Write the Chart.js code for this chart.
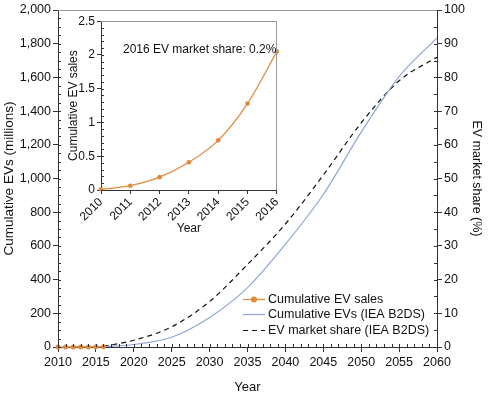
<!DOCTYPE html>
<html><head><meta charset="utf-8">
<script src="https://cdn.jsdelivr.net/npm/chart.js@4/dist/chart.umd.min.js"></script>
<style>
html,body{margin:0;padding:0;background:#fff;}
#wrap{position:relative;width:488px;height:399px;}
#main{position:absolute;left:0;top:0;}
#inset{position:absolute;left:62px;top:12px;}
</style></head><body>
<div id="wrap">
<canvas id="main" width="488" height="399"></canvas>
<canvas id="inset" width="226" height="228"></canvas>
</div>
<script>
// ---- data ----
const salesYears = [2010, 2011, 2012, 2013, 2014, 2015, 2016];
const salesValues = [0.01, 0.064, 0.19, 0.41, 0.735, 1.28, 2.05]; // millions
const scenarioYears = [2016, 2020, 2025, 2030, 2035, 2040, 2045, 2050, 2055, 2060];
const scenarioEVs = [2, 15, 58, 175, 352, 610, 905, 1275, 1605, 1835]; // millions
const scenarioShare = [0.2, 2, 6, 13.5, 24.5, 36.5, 51, 66.5, 79, 86]; // %
const seriesLabels = ['Cumulative EV sales', 'Cumulative EVs (IEA B2DS)', 'EV market share (IEA B2DS)'];
const insetNote = '2016 EV market share: 0.2%';

const ORANGE = '#E0893A';
const BLUE = '#8EA6D6';
const DARK = '#111';
const AXIS = '#333';
Chart.defaults.font.family = '"Liberation Sans", Arial, Helvetica, sans-serif';
Chart.defaults.color = DARK;

const pts = (xs, ys) => xs.map((x, i) => ({x: x, y: ys[i]}));

const minorTicksPlugin = {
  id: 'minorTicks',
  afterDraw(chart, args, opts) {
    const ctx = chart.ctx, ca = chart.chartArea;
    ctx.save();
    ctx.lineWidth = 1;
    ctx.strokeStyle = opts.color || AXIS;
    (opts.list || []).forEach(m => {
      const s = chart.scales[m.id];
      const n = Math.round((s.max - s.min) / m.step);
      for (let k = 0; k <= n; k++) {
        const v = s.min + k * m.step;
        const p = Math.round(s.getPixelForValue(v)) + 0.5;
        ctx.beginPath();
        if (m.side === 'bottom') { ctx.moveTo(p, ca.bottom); ctx.lineTo(p, ca.bottom - m.len); }
        else if (m.side === 'left') { ctx.moveTo(ca.left, p); ctx.lineTo(ca.left + m.len, p); }
        else { ctx.moveTo(ca.right, p); ctx.lineTo(ca.right - m.len, p); }
        ctx.stroke();
      }
    });
    ctx.strokeStyle = opts.frameColor || '#999';
    ctx.beginPath();
    ctx.moveTo(ca.left, Math.round(ca.top) + 0.5);
    ctx.lineTo(ca.right, Math.round(ca.top) + 0.5);
    if (opts.frameRight) {
      ctx.moveTo(Math.round(ca.right) - 0.5, ca.top);
      ctx.lineTo(Math.round(ca.right) - 0.5, ca.bottom);
    }
    ctx.stroke();
    ctx.restore();
  }
};

const legendPlugin = {
  id: 'floatLegend',
  afterDraw(chart, args, opts) {
    const ctx = chart.ctx;
    ctx.save();
    ctx.font = opts.font;
    ctx.textBaseline = 'middle';
    chart.data.datasets.forEach((ds, i) => {
      const y = Math.round(opts.y + i * opts.rowH) + 0.5;
      ctx.strokeStyle = ds.borderColor;
      ctx.lineWidth = ds.borderWidth;
      ctx.setLineDash(ds.borderDash || []);
      ctx.beginPath(); ctx.moveTo(opts.x, y); ctx.lineTo(opts.x + opts.lineW, y); ctx.stroke();
      ctx.setLineDash([]);
      if (ds.pointRadius) {
        ctx.fillStyle = ds.pointBackgroundColor;
        ctx.beginPath(); ctx.arc(opts.x + opts.lineW / 2, y, ds.pointRadius + 0.5, 0, 2 * Math.PI); ctx.fill();
      }
      ctx.fillStyle = DARK;
      ctx.fillText(ds.label, opts.x + opts.lineW + opts.gap, y);
    });
    ctx.restore();
  }
};

const notePlugin = {
  id: 'note',
  afterDraw(chart, args, opts) {
    const ctx = chart.ctx;
    ctx.save();
    ctx.font = opts.font;
    ctx.fillStyle = DARK;
    ctx.textBaseline = 'middle';
    ctx.fillText(opts.text, opts.x, opts.y);
    ctx.restore();
  }
};

// ---- main chart ----
new Chart(document.getElementById('main'), {
  type: 'line',
  data: {
    datasets: [
      {label: seriesLabels[0], data: pts(salesYears, salesValues), borderColor: ORANGE, backgroundColor: ORANGE,
       pointBackgroundColor: ORANGE, pointBorderWidth: 0, pointRadius: 2.5, borderWidth: 1.2, yAxisID: 'y', clip: false},
      {label: seriesLabels[1], data: pts(scenarioYears, scenarioEVs), borderColor: BLUE, borderWidth: 1.2,
       pointRadius: 0, cubicInterpolationMode: 'monotone', yAxisID: 'y'},
      {label: seriesLabels[2], data: pts(scenarioYears, scenarioShare), borderColor: DARK, borderWidth: 1.2,
       borderDash: [5, 4], pointRadius: 0, cubicInterpolationMode: 'monotone', yAxisID: 'y2'}
    ]
  },
  options: {
    responsive: false, animation: false,
    layout: {padding: {top: 10, left: 0, right: 0, bottom: 0}},
    plugins: {
      legend: {display: false}, tooltip: {enabled: false},
      minorTicks: {list: [
        {id: 'x', step: 1, len: 3, side: 'bottom'},
        {id: 'y', step: 50, len: 3, side: 'left'},
        {id: 'y2', step: 5, len: 3, side: 'right'}
      ], frameColor: '#999', frameRight: false},
      floatLegend: {x: 243, y: 298.5, rowH: 15.7, lineW: 22, gap: 3, font: '12.5px "Liberation Sans", Arial, sans-serif'}
    },
    scales: {
      x: {type: 'linear', min: 2010, max: 2060,
          ticks: {stepSize: 5, font: {size: 12.5}, color: DARK, padding: 3, maxRotation: 0, callback: v => String(v)},
          grid: {drawOnChartArea: false, tickLength: 5, color: AXIS},
          border: {color: AXIS},
          title: {display: true, text: 'Year', font: {size: 13}, color: DARK, padding: {top: 4, bottom: 4}},
          afterFit(s) { s.height = 52; }},
      y: {position: 'left', min: 0, max: 2000,
          ticks: {stepSize: 200, font: {size: 12.5}, color: DARK, padding: 2, callback: v => v.toLocaleString('en-US')},
          grid: {drawOnChartArea: false, tickLength: 5, color: AXIS},
          border: {color: AXIS},
          title: {display: true, text: 'Cumulative EVs (millions)', font: {size: 13.5}, color: DARK, padding: {top: 1, bottom: 1}},
          afterFit(s) { s.width = 58; }},
      y2: {position: 'right', min: 0, max: 100,
          ticks: {stepSize: 10, font: {size: 12.5}, color: DARK, padding: 2},
          grid: {drawOnChartArea: false, tickLength: 5, color: AXIS},
          border: {color: AXIS},
          title: {display: true, text: 'EV market share (%)', font: {size: 12.5}, color: DARK, padding: {top: 4.5, bottom: 1}},
          afterFit(s) { s.width = 51; }}
    }
  },
  plugins: [minorTicksPlugin, legendPlugin]
});

// ---- inset chart ----
new Chart(document.getElementById('inset'), {
  type: 'line',
  data: {
    datasets: [
      {label: seriesLabels[0], data: pts(salesYears, salesValues), borderColor: ORANGE, backgroundColor: ORANGE,
       pointBackgroundColor: ORANGE, pointBorderWidth: 0, pointRadius: 2.3, borderWidth: 1.2, clip: false,
       cubicInterpolationMode: 'monotone'}
    ]
  },
  options: {
    responsive: false, animation: false,
    layout: {padding: {top: 8, left: 0, right: 6, bottom: 0}},
    plugins: {
      legend: {display: false}, tooltip: {enabled: false},
      minorTicks: {list: [{id: 'y', step: 0.1, len: 3, side: 'left'}], frameColor: '#999', frameRight: true},
      note: {text: insetNote, x: 61, y: 38, font: '12px "Liberation Sans", Arial, sans-serif'}
    },
    scales: {
      x: {type: 'linear', min: 2010, max: 2016,
          ticks: {stepSize: 1, font: {size: 12}, color: DARK, padding: 1, minRotation: 45, maxRotation: 45, callback: v => String(v)},
          grid: {drawOnChartArea: false, tickLength: 4, color: AXIS},
          border: {color: AXIS},
          title: {display: true, text: 'Year', font: {size: 12}, color: DARK, padding: {top: 2, bottom: 4}},
          afterFit(s) { s.height = 50; }},
      y: {min: 0, max: 2.5,
          ticks: {stepSize: 0.5, font: {size: 12}, color: DARK, padding: 2, callback: v => String(Math.round(v * 10) / 10)},
          grid: {drawOnChartArea: false, tickLength: 4, color: AXIS},
          border: {color: AXIS},
          title: {display: true, text: 'Cumulative EV sales', font: {size: 12}, color: DARK, padding: {top: 4, bottom: 1}},
          afterFit(s) { s.width = 39; }}
    }
  },
  plugins: [minorTicksPlugin, notePlugin]
});
</script>
</body></html>
